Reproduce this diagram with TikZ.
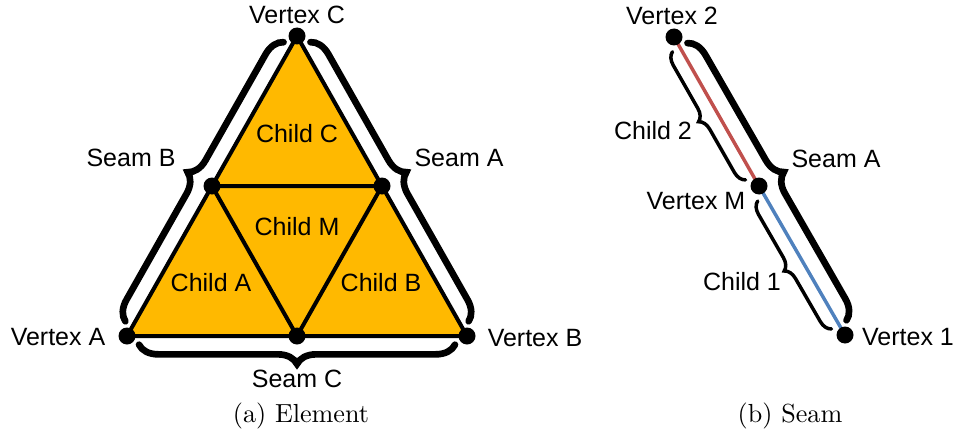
\documentclass[tikz,border=0pt]{standalone}
\usepackage{fontspec}
\setsansfont{Liberation Sans}
\newfontfamily\captfont[Extension=.otf]{lmroman10-regular}
\usetikzlibrary{calc,decorations.pathreplacing}
\definecolor{childfill}{RGB}{255,185,0}
\definecolor{childred}{RGB}{192,80,77}
\definecolor{childblue}{RGB}{79,129,189}

\begin{document}
\begin{tikzpicture}[x=0.75pt,y=0.75pt,
  vtx/.style={circle,fill=black,inner sep=0pt,minimum size=12.75pt},
  lbl/.style={font=\sffamily\fontsize{18.75}{22}\selectfont,inner sep=0pt},
  capt/.style={font=\captfont\fontsize{19.6}{23}\selectfont,inner sep=0pt},
  edge/.style={line width=3pt,line join=round},
  halfseam/.style={line width=2.6pt},
  seambrace/.style={decorate,line width=5pt,line cap=round,
    decoration={brace,amplitude=14.5pt,raise=6.5pt}},
  childbrace/.style={decorate,line width=2.6pt,line cap=round,
    decoration={brace,amplitude=9pt,raise=6.5pt}}]
  \useasboundingbox (0,0) rectangle (959,433);

  % (a) The element and its four children.
  \coordinate (A) at (127,97);
  \coordinate (B) at (467,97);
  \coordinate (C) at (297,397);
  \coordinate (mB) at ($(A)!0.5!(C)$);
  \coordinate (mA) at ($(C)!0.5!(B)$);
  \coordinate (mC) at ($(A)!0.5!(B)$);
  \fill[childfill] (A) -- (B) -- (C) -- cycle;
  \draw[edge] (A) -- (B) -- (C) -- cycle;
  \draw[edge] (mB) -- (mA) -- (mC) -- cycle;
  \foreach \v in {A,B,C,mA,mB,mC}
    \node[vtx] (d\v) at (\v) {};

  % The three seams of the element.
  \draw[seambrace] ($(A)!9pt!(C)$) -- ($(C)!9pt!(A)$);
  \draw[seambrace] ($(C)!9pt!(B)$) -- ($(B)!9pt!(C)$);
  \draw[seambrace] ($(B)!9pt!(A)$) -- ($(A)!9pt!(B)$);

  \node[lbl] (labVC) at (297,418) {Vertex C};
  \node[lbl] (labVA) at (58,96) {Vertex A};
  \node[lbl] (labVB) at (535,95) {Vertex B};
  \node[lbl] (labSB) at (131,275) {Seam B};
  \node[lbl] (labSA) at (459,275) {Seam A};
  \node[lbl] (labSC) at (297,54) {Seam C};
  \node[lbl] (labCC) at (297,299) {Child C};
  \node[lbl] (labCM) at (297,206) {Child M};
  \node[lbl] (labCA) at (211,150) {Child A};
  \node[lbl] (labCB) at (381,150) {Child B};
  \node[capt] (captA) at (301,17.5) {(a) Element};

  % (b) The seam split at its middle vertex.
  \coordinate (V2) at (674,396);
  \coordinate (VM) at (759,247);
  \coordinate (V1) at (845,98);
  \draw[halfseam,childred] (V2) -- (VM);
  \draw[halfseam,childblue] (VM) -- (V1);
  \foreach \v in {V1,V2,VM}
    \node[vtx] (d\v) at (\v) {};

  \draw[seambrace] ($(V2)!9pt!(V1)$) -- ($(V1)!9pt!(V2)$);
  \draw[childbrace] ($(VM)!9pt!(V2)$) -- ($(V2)!9pt!(VM)$);
  \draw[childbrace] ($(V1)!9pt!(VM)$) -- ($(VM)!9pt!(V1)$);

  \node[lbl] (labV2) at (672,417) {Vertex 2};
  \node[lbl] (labC2) at (653,302) {Child 2};
  \node[lbl] (labSA2) at (836,274) {Seam A};
  \node[lbl] (labVM) at (696,232) {Vertex M};
  \node[lbl] (labC1) at (742,151) {Child 1};
  \node[lbl] (labV1) at (908,96) {Vertex 1};
  \node[capt] (captB) at (790,17.5) {(b) Seam};
\end{tikzpicture}
\end{document}
